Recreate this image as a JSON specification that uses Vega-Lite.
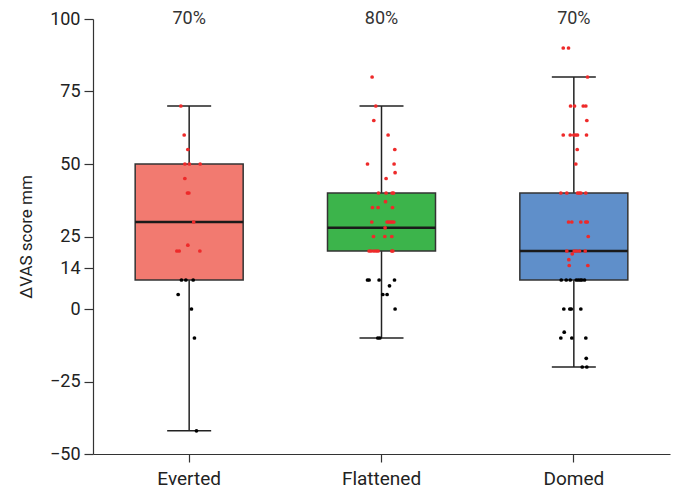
{
  "$schema": "https://vega.github.io/schema/vega-lite/v6.json",
  "width": 577,
  "height": 435,
  "autosize": "none",
  "padding": {"left": 93, "top": 19, "right": 5, "bottom": 35},
  "config": {"view": {"stroke": null}, "font": "Roboto"},
  "datasets": {
    "stats": [
      {"group": "Everted", "lo": -42, "q1": 10, "median": 30, "q3": 50, "hi": 70, "pct": "70%"},
      {"group": "Flattened", "lo": -10, "q1": 20, "median": 28, "q3": 40, "hi": 70, "pct": "80%"},
      {"group": "Domed", "lo": -20, "q1": 10, "median": 20, "q3": 40, "hi": 80, "pct": "70%"}
    ],
    "points": [
      {"group": "Everted", "value": 70, "jitter": -8.3},
      {"group": "Everted", "value": 60, "jitter": -5},
      {"group": "Everted", "value": 55, "jitter": -1.3},
      {"group": "Everted", "value": 50, "jitter": -4.3},
      {"group": "Everted", "value": 50, "jitter": 0.3},
      {"group": "Everted", "value": 50, "jitter": 11},
      {"group": "Everted", "value": 45, "jitter": -4.3},
      {"group": "Everted", "value": 40, "jitter": -1.7},
      {"group": "Everted", "value": 40, "jitter": -0.3},
      {"group": "Everted", "value": 30, "jitter": 4.5},
      {"group": "Everted", "value": 22, "jitter": -1.3},
      {"group": "Everted", "value": 20, "jitter": -12.3},
      {"group": "Everted", "value": 20, "jitter": -10},
      {"group": "Everted", "value": 20, "jitter": 10.7},
      {"group": "Everted", "value": 10, "jitter": -7.7},
      {"group": "Everted", "value": 10, "jitter": -3.3},
      {"group": "Everted", "value": 10, "jitter": 4},
      {"group": "Everted", "value": 5, "jitter": -11},
      {"group": "Everted", "value": 0, "jitter": 2.3},
      {"group": "Everted", "value": -10, "jitter": 5.3},
      {"group": "Everted", "value": -42, "jitter": 7.3},
      {"group": "Flattened", "value": 80, "jitter": -9.4},
      {"group": "Flattened", "value": 70, "jitter": -5.7},
      {"group": "Flattened", "value": 65, "jitter": -7.7},
      {"group": "Flattened", "value": 60, "jitter": 6.6},
      {"group": "Flattened", "value": 55, "jitter": 13.3},
      {"group": "Flattened", "value": 50, "jitter": -14},
      {"group": "Flattened", "value": 50, "jitter": 12.6},
      {"group": "Flattened", "value": 47, "jitter": 13.6},
      {"group": "Flattened", "value": 45, "jitter": 4.6},
      {"group": "Flattened", "value": 40, "jitter": -3},
      {"group": "Flattened", "value": 40, "jitter": 4.6},
      {"group": "Flattened", "value": 40, "jitter": 10.6},
      {"group": "Flattened", "value": 40, "jitter": 12},
      {"group": "Flattened", "value": 37, "jitter": 4},
      {"group": "Flattened", "value": 35, "jitter": -9},
      {"group": "Flattened", "value": 35, "jitter": -3.4},
      {"group": "Flattened", "value": 35, "jitter": 11},
      {"group": "Flattened", "value": 30, "jitter": -9.7},
      {"group": "Flattened", "value": 30, "jitter": 5.6},
      {"group": "Flattened", "value": 30, "jitter": 7.3},
      {"group": "Flattened", "value": 30, "jitter": 9},
      {"group": "Flattened", "value": 30, "jitter": 10.6},
      {"group": "Flattened", "value": 30, "jitter": 12.3},
      {"group": "Flattened", "value": 28, "jitter": 3.6},
      {"group": "Flattened", "value": 25, "jitter": -8},
      {"group": "Flattened", "value": 25, "jitter": 3.3},
      {"group": "Flattened", "value": 25, "jitter": 10.3},
      {"group": "Flattened", "value": 20, "jitter": -12.4},
      {"group": "Flattened", "value": 20, "jitter": -10.4},
      {"group": "Flattened", "value": 20, "jitter": -7.7},
      {"group": "Flattened", "value": 20, "jitter": -5.4},
      {"group": "Flattened", "value": 20, "jitter": -3.4},
      {"group": "Flattened", "value": 20, "jitter": 10.3},
      {"group": "Flattened", "value": 20, "jitter": 11.3},
      {"group": "Flattened", "value": 10, "jitter": -14},
      {"group": "Flattened", "value": 10, "jitter": -12.4},
      {"group": "Flattened", "value": 10, "jitter": -2.4},
      {"group": "Flattened", "value": 10, "jitter": 13},
      {"group": "Flattened", "value": 8, "jitter": 8},
      {"group": "Flattened", "value": 5, "jitter": 1.3},
      {"group": "Flattened", "value": 5, "jitter": 5.6},
      {"group": "Flattened", "value": 0, "jitter": 13.6},
      {"group": "Flattened", "value": -10, "jitter": -3.7},
      {"group": "Flattened", "value": -10, "jitter": -1.7},
      {"group": "Domed", "value": 90, "jitter": -10.6},
      {"group": "Domed", "value": 90, "jitter": -5.3},
      {"group": "Domed", "value": 80, "jitter": 13.7},
      {"group": "Domed", "value": 70, "jitter": -3.3},
      {"group": "Domed", "value": 70, "jitter": 0.7},
      {"group": "Domed", "value": 70, "jitter": 9.4},
      {"group": "Domed", "value": 70, "jitter": 12},
      {"group": "Domed", "value": 65, "jitter": 13},
      {"group": "Domed", "value": 60, "jitter": -10.6},
      {"group": "Domed", "value": 60, "jitter": -3.6},
      {"group": "Domed", "value": 60, "jitter": 0},
      {"group": "Domed", "value": 60, "jitter": 2},
      {"group": "Domed", "value": 60, "jitter": 3.7},
      {"group": "Domed", "value": 60, "jitter": 12.7},
      {"group": "Domed", "value": 55, "jitter": 3.4},
      {"group": "Domed", "value": 50, "jitter": 2},
      {"group": "Domed", "value": 40, "jitter": -13},
      {"group": "Domed", "value": 40, "jitter": -7},
      {"group": "Domed", "value": 40, "jitter": 3.7},
      {"group": "Domed", "value": 40, "jitter": 5.4},
      {"group": "Domed", "value": 40, "jitter": 7},
      {"group": "Domed", "value": 40, "jitter": 12},
      {"group": "Domed", "value": 30, "jitter": -5.3},
      {"group": "Domed", "value": 30, "jitter": -2},
      {"group": "Domed", "value": 30, "jitter": 7},
      {"group": "Domed", "value": 30, "jitter": 12},
      {"group": "Domed", "value": 30, "jitter": 13.4},
      {"group": "Domed", "value": 25, "jitter": 14.4},
      {"group": "Domed", "value": 20, "jitter": -7},
      {"group": "Domed", "value": 20, "jitter": 0.4},
      {"group": "Domed", "value": 20, "jitter": 2.7},
      {"group": "Domed", "value": 20, "jitter": 5.7},
      {"group": "Domed", "value": 20, "jitter": 11.4},
      {"group": "Domed", "value": 19, "jitter": -1.6},
      {"group": "Domed", "value": 17, "jitter": -5},
      {"group": "Domed", "value": 15, "jitter": -4.6},
      {"group": "Domed", "value": 15, "jitter": 14},
      {"group": "Domed", "value": 10, "jitter": -12.6},
      {"group": "Domed", "value": 10, "jitter": -7.6},
      {"group": "Domed", "value": 10, "jitter": -3.6},
      {"group": "Domed", "value": 10, "jitter": 2.4},
      {"group": "Domed", "value": 10, "jitter": 4.4},
      {"group": "Domed", "value": 10, "jitter": 6.4},
      {"group": "Domed", "value": 10, "jitter": 8},
      {"group": "Domed", "value": 10, "jitter": 10.7},
      {"group": "Domed", "value": 0, "jitter": -10},
      {"group": "Domed", "value": 0, "jitter": -4},
      {"group": "Domed", "value": 0, "jitter": -2.6},
      {"group": "Domed", "value": 0, "jitter": 7},
      {"group": "Domed", "value": -8, "jitter": -9.6},
      {"group": "Domed", "value": -10, "jitter": -13},
      {"group": "Domed", "value": -10, "jitter": -2},
      {"group": "Domed", "value": -10, "jitter": 12},
      {"group": "Domed", "value": -17, "jitter": 12.4},
      {"group": "Domed", "value": -20, "jitter": 8.4},
      {"group": "Domed", "value": -20, "jitter": 13}
    ]
  },
  "encoding": {
    "x": {
      "field": "group",
      "type": "nominal",
      "sort": ["Everted", "Flattened", "Domed"],
      "scale": {"paddingInner": 0, "paddingOuter": 0},
      "axis": {
        "title": null,
        "labelAngle": 0,
        "labelFontSize": 19,
        "labelColor": "#222",
        "labelPadding": 7,
        "tickSize": 8,
        "tickColor": "#333",
        "domainColor": "#333",
        "domainWidth": 1.2,
        "tickWidth": 1.2
      }
    }
  },
  "layer": [
    {
      "data": {"name": "stats"},
      "mark": {"type": "rule", "color": "#222", "strokeWidth": 1.5},
      "encoding": {
        "y": {
          "field": "lo",
          "type": "quantitative",
          "scale": {"domain": [-50, 100], "nice": false, "zero": false},
          "axis": {
            "values": [-50, -25, 0, 14, 25, 50, 75, 100],
            "grid": false,
            "title": "ΔVAS score mm",
            "titleFontSize": 17,
            "titleFontWeight": "normal",
            "titleColor": "#222",
            "titlePadding": 14,
            "labelFontSize": 18,
            "labelColor": "#222",
            "labelPadding": 4,
            "tickSize": 9,
            "tickColor": "#333",
            "domainColor": "#333",
            "domainWidth": 1.2,
            "tickWidth": 1.2
          }
        },
        "y2": {"field": "hi"}
      }
    },
    {
      "data": {"name": "stats"},
      "mark": {"type": "bar", "width": 108, "stroke": "#333", "strokeWidth": 1.5, "opacity": 1},
      "encoding": {
        "y": {"field": "q1", "type": "quantitative"},
        "y2": {"field": "q3"},
        "color": {
          "field": "group",
          "type": "nominal",
          "scale": {"domain": ["Everted", "Flattened", "Domed"], "range": ["#F27A70", "#3CB44B", "#5F8FCA"]},
          "legend": null
        }
      }
    },
    {
      "data": {"name": "stats"},
      "mark": {"type": "tick", "size": 108, "thickness": 2.5, "color": "#1a1a1a", "opacity": 1},
      "encoding": {"y": {"field": "median", "type": "quantitative"}}
    },
    {
      "data": {"name": "stats"},
      "mark": {"type": "tick", "size": 44, "thickness": 1.5, "color": "#222", "opacity": 1},
      "encoding": {"y": {"field": "hi", "type": "quantitative"}}
    },
    {
      "data": {"name": "stats"},
      "mark": {"type": "tick", "size": 44, "thickness": 1.5, "color": "#222", "opacity": 1},
      "encoding": {"y": {"field": "lo", "type": "quantitative"}}
    },
    {
      "data": {"name": "points"},
      "mark": {"type": "circle", "size": 14, "opacity": 1},
      "encoding": {
        "y": {"field": "value", "type": "quantitative"},
        "xOffset": {
          "field": "jitter",
          "type": "quantitative",
          "scale": {"domain": [-96.17, 96.17], "range": [0, 192.33]}
        },
        "color": {
          "condition": {"test": "datum.value >= 14", "value": "#EE2A2A"},
          "value": "#000000"
        }
      }
    },
    {
      "mark": {"type": "rule", "color": "#222", "strokeWidth": 1.2, "strokeDash": [3, 3]},
      "encoding": {"y": {"datum": 14}, "x": {"value": 0}, "x2": {"value": 577}}
    },
    {
      "data": {"name": "stats"},
      "mark": {"type": "text", "fontSize": 18, "color": "#333", "baseline": "middle"},
      "encoding": {
        "y": {"datum": 100},
        "text": {"field": "pct"}
      }
    }
  ]
}
